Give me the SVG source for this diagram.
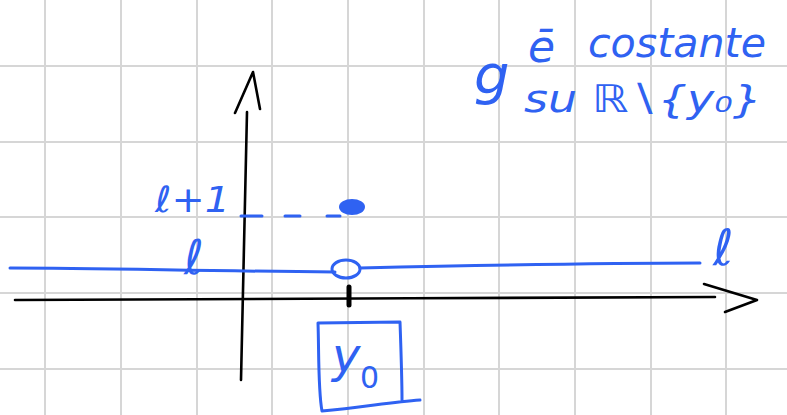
<svg xmlns="http://www.w3.org/2000/svg" width="787" height="415" viewBox="0 0 787 415">
<style>
.grid{stroke:#d6d6d6;stroke-width:2;fill:none}
.ink{stroke:#000;stroke-width:2.6;fill:none;stroke-linecap:round;stroke-linejoin:round}
.blue{stroke:#2f62f2;stroke-width:3;fill:none;stroke-linecap:round;stroke-linejoin:round}
.bt{fill:#2f62f2;font-family:"DejaVu Sans","Liberation Sans",sans-serif}
</style>
<rect width="787" height="415" fill="#fff"/>
<g id="grid" class="grid">
<path d="M45,0V415M121,0V415M197,0V415M272,0V415M348,0V415M424,0V415M499,0V415M575,0V415M651,0V415M726,0V415"/>
<path d="M0,66H787M0,142H787M0,217H787M0,293H787M0,369H787"/>
</g>
<g id="axes">
<path class="ink" d="M247,112 C246,180 243,260 241,380"/>
<path class="ink" d="M235,113 L253,72 L260,109"/>
<path class="ink" d="M15,300 C200,299 500,298 715,297"/>
<path class="ink" d="M704,284 L757,300 L725,312"/>
<path stroke="#000" stroke-width="5" stroke-linecap="round" d="M349,287 V305"/>
</g>
<g id="function-l">
<path class="blue" d="M10,268 C100,268 200,271 335,272"/>
<ellipse class="blue" cx="346" cy="269" rx="14" ry="9"/>
<path class="blue" d="M360,268 C450,266 600,263 700,263"/>
<text class="bt" x="184" y="274" font-size="48" font-style="italic">ℓ</text>
<text class="bt" x="713" y="265" font-size="50" font-style="italic">ℓ</text>
</g>
<g id="point-l1">
<path class="blue" d="M241,216 H262 M285,216 H300 M327,216 H340"/>
<ellipse cx="352" cy="207" rx="13" ry="8" fill="#2f62f2"/>
<text class="bt" x="155" y="212" font-size="36" font-style="italic" textLength="75" lengthAdjust="spacingAndGlyphs">ℓ+1</text>
</g>
<g id="y0-box">
<path class="blue" d="M318,323 C319,350 318,390 322,411 C360,408 390,402 420,400 M318,323 L400,322 C401,350 402,380 402,400"/>
<text class="bt" x="332" y="372" font-size="48" font-style="italic">y</text>
<text class="bt" x="360" y="388" font-size="30">0</text>
</g>
<g id="note">
<text class="bt" x="474" y="94" font-size="56" font-style="italic">g</text>
<text class="bt" x="528" y="62" font-size="44" font-style="italic">ē</text>
<text class="bt" x="588" y="57" font-size="40" font-style="italic" textLength="178" lengthAdjust="spacingAndGlyphs">costante</text>
<text class="bt" x="524" y="112" font-size="38" font-style="italic" textLength="238" lengthAdjust="spacingAndGlyphs">su ℝ∖{y₀}</text>
</g>
</svg>
